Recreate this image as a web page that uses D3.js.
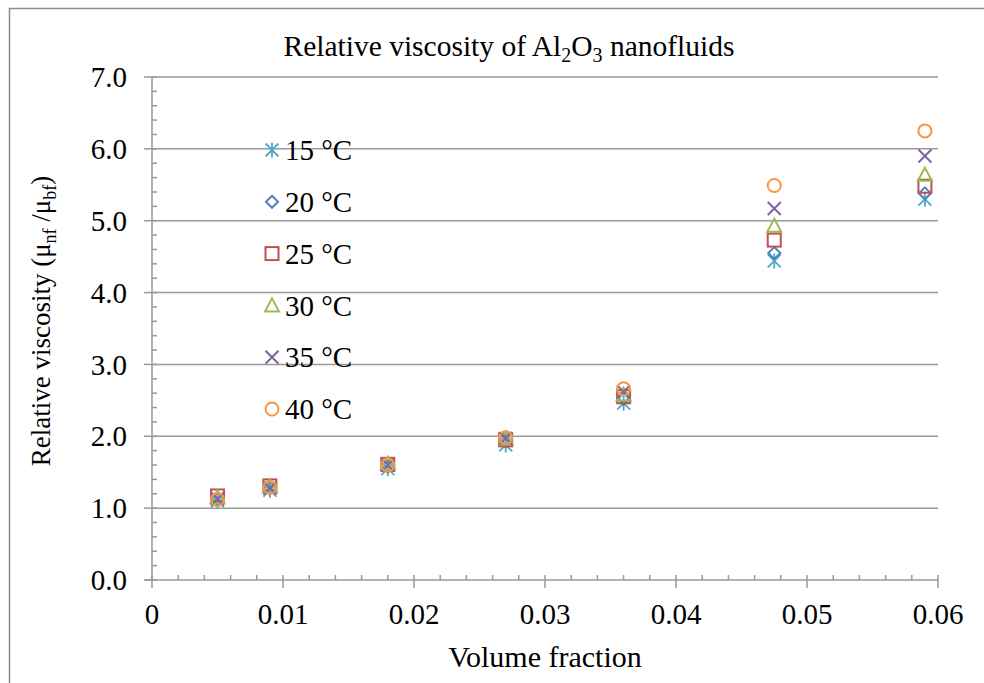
<!DOCTYPE html>
<html>
<head>
<meta charset="utf-8">
<script src="https://cdn.jsdelivr.net/npm/d3@7"></script>
<style>
  body { margin: 0; background: #fff; overflow: hidden; }
</style>
</head>
<body>
<div id="chart"></div>
<script>
// volume fractions and relative viscosity per temperature
var volumeFractions = [0.005, 0.009, 0.018, 0.027, 0.036, 0.0475, 0.059];
var temps = ["15 °C", "20 °C", "25 °C", "30 °C", "35 °C", "40 °C"];
var visc15 = [1.10, 1.25, 1.55, 1.88, 2.46, 4.44, 5.30];
var visc20 = [1.13, 1.28, 1.58, 1.93, 2.52, 4.55, 5.38];
var visc25 = [1.17, 1.31, 1.61, 1.95, 2.55, 4.73, 5.48];
var visc30 = [1.15, 1.30, 1.62, 1.97, 2.58, 4.93, 5.64];
var visc35 = [1.13, 1.28, 1.60, 1.97, 2.62, 5.17, 5.90];
var visc40 = [1.12, 1.29, 1.60, 1.98, 2.66, 5.49, 6.25];
var xTicks = [0, 0.01, 0.02, 0.03, 0.04, 0.05, 0.06];
var yTicks = [0, 1, 2, 3, 4, 5, 6, 7];

var series = [visc15, visc20, visc25, visc30, visc35, visc40];
var colors = ["#4bacc6", "#4f81bd", "#c0504d", "#9bbb59", "#8064a2", "#f79646"];
var shapes = ["asterisk", "diamond", "square", "triangle", "cross", "circle"];

var width = 984, height = 683;
var svg = d3.select("#chart").append("svg")
  .attr("width", width)
  .attr("height", height)
  .style("display", "block")
  .attr("font-family", "'Liberation Serif', 'DejaVu Serif', serif");

// outer frame (only left and top edges visible)
svg.append("rect")
  .attr("x", 9.5).attr("y", 8.5)
  .attr("width", 1000).attr("height", 700)
  .attr("fill", "none").attr("stroke", "#8c8c8c").attr("stroke-width", 1.5);

var x = d3.scaleLinear().domain([0, 0.06]).range([152, 938]);
var y = d3.scaleLinear().domain([0, 7]).range([580, 77]);
var gridColor = "#999";

// gridlines
svg.selectAll(".grid")
  .data(yTicks.filter(function(d) { return d > 0; }))
  .enter().append("line")
  .attr("x1", x(0)).attr("x2", x(0.06))
  .attr("y1", function(d) { return y(d); }).attr("y2", function(d) { return y(d); })
  .attr("stroke", gridColor).attr("stroke-width", 1.5);

// y axis with major and minor ticks
var yAxis = svg.append("g").attr("transform", "translate(" + x(0) + ",0)");
yAxis.append("line").attr("y1", y(0)).attr("y2", y(7)).attr("stroke", gridColor).attr("stroke-width", 1.5);
yAxis.selectAll(".minor").data(d3.range(0, 7.01, 0.2))
  .enter().append("line")
  .attr("x1", 0).attr("x2", 5)
  .attr("y1", function(d) { return y(d); }).attr("y2", function(d) { return y(d); })
  .attr("stroke", gridColor).attr("stroke-width", 1.5);
yAxis.selectAll(".major").data(yTicks)
  .enter().append("line")
  .attr("x1", -8).attr("x2", 0)
  .attr("y1", function(d) { return y(d); }).attr("y2", function(d) { return y(d); })
  .attr("stroke", gridColor).attr("stroke-width", 1.5);
yAxis.selectAll(".lbl").data(yTicks)
  .enter().append("text")
  .attr("x", -25).attr("y", function(d) { return y(d); })
  .attr("dy", "0.35em").attr("text-anchor", "end")
  .attr("font-size", 29)
  .text(function(d) { return d3.format(".1f")(d); });

// x axis
var xAxis = svg.append("g").attr("transform", "translate(0," + y(0) + ")");
xAxis.append("line").attr("x1", x(0) - 8).attr("x2", x(0.06)).attr("stroke", gridColor).attr("stroke-width", 1.5);
xAxis.selectAll(".minor").data(d3.range(0, 0.0601, 0.002))
  .enter().append("line")
  .attr("x1", function(d) { return x(d); }).attr("x2", function(d) { return x(d); })
  .attr("y1", -5).attr("y2", 0)
  .attr("stroke", gridColor).attr("stroke-width", 1.5);
xAxis.selectAll(".major").data(xTicks)
  .enter().append("line")
  .attr("x1", function(d) { return x(d); }).attr("x2", function(d) { return x(d); })
  .attr("y1", 0).attr("y2", 8)
  .attr("stroke", gridColor).attr("stroke-width", 1.5);
xAxis.selectAll(".lbl").data(xTicks)
  .enter().append("text")
  .attr("x", function(d) { return x(d); }).attr("y", 44)
  .attr("text-anchor", "middle")
  .attr("font-size", 29)
  .text(function(d) { return d === 0 ? "0" : d3.format(".2f")(d); });

// marker drawing
function drawMarker(g, shape, color) {
  var s = 6.5;
  if (shape === "asterisk") {
    g.append("path").attr("d", "M" + (-s) + "," + (-s) + "L" + s + "," + s + "M" + (-s) + "," + s + "L" + s + "," + (-s) + "M0," + (-s - 1) + "L0," + (s + 1))
      .attr("stroke", color).attr("stroke-width", 1.8).attr("fill", "none");
  } else if (shape === "diamond") {
    g.append("path").attr("d", "M0,-6L6,0L0,6L-6,0Z")
      .attr("stroke", color).attr("stroke-width", 2).attr("fill", "none");
  } else if (shape === "square") {
    g.append("rect").attr("x", -6.5).attr("y", -6.5).attr("width", 13).attr("height", 13)
      .attr("stroke", color).attr("stroke-width", 2).attr("fill", "none");
  } else if (shape === "triangle") {
    g.append("path").attr("d", "M0,-7L7,6L-7,6Z")
      .attr("stroke", color).attr("stroke-width", 2).attr("fill", "none");
  } else if (shape === "cross") {
    g.append("path").attr("d", "M" + (-s) + "," + (-s) + "L" + s + "," + s + "M" + (-s) + "," + s + "L" + s + "," + (-s))
      .attr("stroke", color).attr("stroke-width", 2).attr("fill", "none");
  } else {
    g.append("circle").attr("r", 6.5)
      .attr("stroke", color).attr("stroke-width", 2).attr("fill", "none");
  }
}

// data points
series.forEach(function(values, i) {
  svg.append("g").selectAll("g")
    .data(values)
    .enter().append("g")
    .attr("transform", function(d, j) { return "translate(" + x(volumeFractions[j]) + "," + y(d) + ")"; })
    .each(function() { drawMarker(d3.select(this), shapes[i], colors[i]); });
});

// legend
var legend = svg.append("g");
temps.forEach(function(t, i) {
  var ly = 150 + i * 51.8;
  var g = legend.append("g").attr("transform", "translate(272," + ly + ")");
  drawMarker(g, shapes[i], colors[i]);
  legend.append("text").attr("x", 285).attr("y", ly).attr("dy", "0.35em")
    .attr("font-size", 29).text(t);
});

// title
var title = svg.append("text").attr("x", 509).attr("y", 56).attr("text-anchor", "middle").attr("font-size", 29.5);
title.append("tspan").text("Relative viscosity of Al");
title.append("tspan").attr("font-size", 20).attr("dy", 6).text("2");
title.append("tspan").attr("dy", -6).text("O");
title.append("tspan").attr("font-size", 20).attr("dy", 6).text("3");
title.append("tspan").attr("dy", -6).text(" nanofluids");

// axis titles
svg.append("text").attr("x", 545).attr("y", 667).attr("text-anchor", "middle")
  .attr("font-size", 30).text("Volume fraction");

var yt = svg.append("text")
  .attr("transform", "translate(50,321) rotate(-90)")
  .attr("text-anchor", "middle").attr("font-size", 27);
yt.append("tspan").text("Relative viscosity (μ");
yt.append("tspan").attr("font-size", 18).attr("dy", 6).text("nf");
yt.append("tspan").attr("dy", -6).text(" /μ");
yt.append("tspan").attr("font-size", 18).attr("dy", 6).text("bf");
yt.append("tspan").attr("dy", -6).text(")");
</script>
</body>
</html>
